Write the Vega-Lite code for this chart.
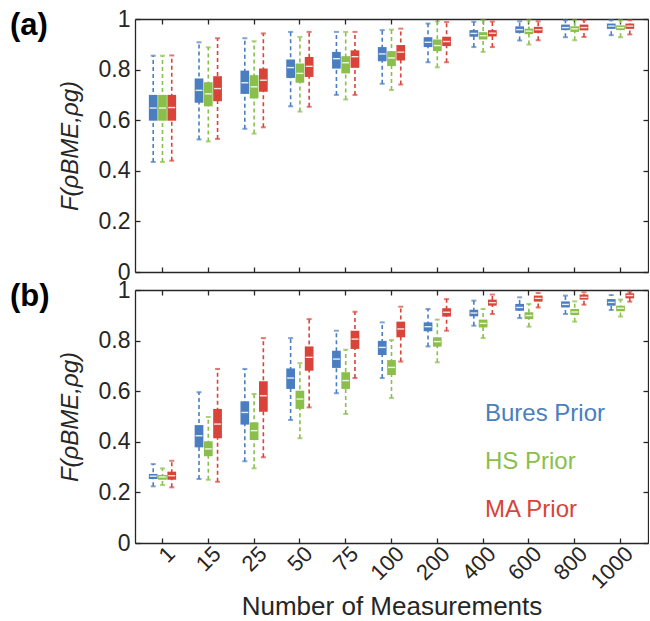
{
  "$schema": "https://vega.github.io/schema/vega-lite/v6.json",
  "padding": {"left": 10, "top": 8, "right": 0, "bottom": 0},
  "config": {"view": {"stroke": null}, "font": "Liberation Sans"},
  "datasets": {
    "a": [
      {"n": "1", "prior": "Bures Prior", "lo": 0.435, "q1": 0.598, "med": 0.648, "q3": 0.700, "hi": 0.855},
      {"n": "1", "prior": "HS Prior", "lo": 0.435, "q1": 0.598, "med": 0.648, "q3": 0.700, "hi": 0.855},
      {"n": "1", "prior": "MA Prior", "lo": 0.440, "q1": 0.598, "med": 0.650, "q3": 0.700, "hi": 0.856},
      {"n": "15", "prior": "Bures Prior", "lo": 0.524, "q1": 0.669, "med": 0.718, "q3": 0.765, "hi": 0.908},
      {"n": "15", "prior": "HS Prior", "lo": 0.516, "q1": 0.655, "med": 0.704, "q3": 0.750, "hi": 0.888},
      {"n": "15", "prior": "MA Prior", "lo": 0.526, "q1": 0.675, "med": 0.725, "q3": 0.774, "hi": 0.924},
      {"n": "25", "prior": "Bures Prior", "lo": 0.566, "q1": 0.704, "med": 0.748, "q3": 0.796, "hi": 0.924},
      {"n": "25", "prior": "HS Prior", "lo": 0.547, "q1": 0.686, "med": 0.732, "q3": 0.778, "hi": 0.912},
      {"n": "25", "prior": "MA Prior", "lo": 0.572, "q1": 0.712, "med": 0.758, "q3": 0.804, "hi": 0.943},
      {"n": "50", "prior": "Bures Prior", "lo": 0.655, "q1": 0.767, "med": 0.808, "q3": 0.840, "hi": 0.949},
      {"n": "50", "prior": "HS Prior", "lo": 0.634, "q1": 0.748, "med": 0.785, "q3": 0.824, "hi": 0.929},
      {"n": "50", "prior": "MA Prior", "lo": 0.653, "q1": 0.771, "med": 0.813, "q3": 0.850, "hi": 0.949},
      {"n": "75", "prior": "Bures Prior", "lo": 0.700, "q1": 0.804, "med": 0.843, "q3": 0.870, "hi": 0.949},
      {"n": "75", "prior": "HS Prior", "lo": 0.682, "q1": 0.785, "med": 0.827, "q3": 0.853, "hi": 0.949},
      {"n": "75", "prior": "MA Prior", "lo": 0.700, "q1": 0.807, "med": 0.851, "q3": 0.876, "hi": 0.949},
      {"n": "100", "prior": "Bures Prior", "lo": 0.744, "q1": 0.833, "med": 0.862, "q3": 0.889, "hi": 0.956},
      {"n": "100", "prior": "HS Prior", "lo": 0.719, "q1": 0.814, "med": 0.846, "q3": 0.873, "hi": 0.958},
      {"n": "100", "prior": "MA Prior", "lo": 0.741, "q1": 0.836, "med": 0.869, "q3": 0.897, "hi": 0.962},
      {"n": "200", "prior": "Bures Prior", "lo": 0.829, "q1": 0.889, "med": 0.908, "q3": 0.928, "hi": 0.982},
      {"n": "200", "prior": "HS Prior", "lo": 0.809, "q1": 0.873, "med": 0.895, "q3": 0.919, "hi": 0.991},
      {"n": "200", "prior": "MA Prior", "lo": 0.829, "q1": 0.893, "med": 0.911, "q3": 0.930, "hi": 0.988},
      {"n": "400", "prior": "Bures Prior", "lo": 0.889, "q1": 0.930, "med": 0.943, "q3": 0.956, "hi": 0.989},
      {"n": "400", "prior": "HS Prior", "lo": 0.870, "q1": 0.919, "med": 0.934, "q3": 0.948, "hi": 0.995},
      {"n": "400", "prior": "MA Prior", "lo": 0.889, "q1": 0.931, "med": 0.944, "q3": 0.956, "hi": 0.990},
      {"n": "600", "prior": "Bures Prior", "lo": 0.915, "q1": 0.945, "med": 0.958, "q3": 0.971, "hi": 0.991},
      {"n": "600", "prior": "HS Prior", "lo": 0.899, "q1": 0.940, "med": 0.952, "q3": 0.962, "hi": 0.995},
      {"n": "600", "prior": "MA Prior", "lo": 0.916, "q1": 0.945, "med": 0.958, "q3": 0.969, "hi": 0.991},
      {"n": "800", "prior": "Bures Prior", "lo": 0.928, "q1": 0.956, "med": 0.966, "q3": 0.978, "hi": 0.995},
      {"n": "800", "prior": "HS Prior", "lo": 0.916, "q1": 0.949, "med": 0.961, "q3": 0.971, "hi": 0.995},
      {"n": "800", "prior": "MA Prior", "lo": 0.929, "q1": 0.955, "med": 0.966, "q3": 0.978, "hi": 0.995},
      {"n": "1000", "prior": "Bures Prior", "lo": 0.936, "q1": 0.961, "med": 0.972, "q3": 0.982, "hi": 0.995},
      {"n": "1000", "prior": "HS Prior", "lo": 0.928, "q1": 0.956, "med": 0.966, "q3": 0.975, "hi": 0.995},
      {"n": "1000", "prior": "MA Prior", "lo": 0.939, "q1": 0.961, "med": 0.972, "q3": 0.982, "hi": 0.995}
    ],
    "b": [
      {"n": "1", "prior": "Bures Prior", "lo": 0.224, "q1": 0.253, "med": 0.264, "q3": 0.273, "hi": 0.312},
      {"n": "1", "prior": "HS Prior", "lo": 0.229, "q1": 0.250, "med": 0.261, "q3": 0.269, "hi": 0.295},
      {"n": "1", "prior": "MA Prior", "lo": 0.220, "q1": 0.250, "med": 0.266, "q3": 0.282, "hi": 0.325},
      {"n": "15", "prior": "Bures Prior", "lo": 0.253, "q1": 0.378, "med": 0.424, "q3": 0.466, "hi": 0.596},
      {"n": "15", "prior": "HS Prior", "lo": 0.250, "q1": 0.343, "med": 0.372, "q3": 0.402, "hi": 0.498},
      {"n": "15", "prior": "MA Prior", "lo": 0.242, "q1": 0.414, "med": 0.470, "q3": 0.530, "hi": 0.688},
      {"n": "25", "prior": "Bures Prior", "lo": 0.323, "q1": 0.468, "med": 0.516, "q3": 0.560, "hi": 0.688},
      {"n": "25", "prior": "HS Prior", "lo": 0.295, "q1": 0.407, "med": 0.444, "q3": 0.477, "hi": 0.589},
      {"n": "25", "prior": "MA Prior", "lo": 0.339, "q1": 0.519, "med": 0.582, "q3": 0.639, "hi": 0.810},
      {"n": "50", "prior": "Bures Prior", "lo": 0.486, "q1": 0.609, "med": 0.652, "q3": 0.690, "hi": 0.810},
      {"n": "50", "prior": "HS Prior", "lo": 0.414, "q1": 0.530, "med": 0.569, "q3": 0.602, "hi": 0.711},
      {"n": "50", "prior": "MA Prior", "lo": 0.536, "q1": 0.681, "med": 0.734, "q3": 0.777, "hi": 0.885},
      {"n": "75", "prior": "Bures Prior", "lo": 0.592, "q1": 0.692, "med": 0.727, "q3": 0.760, "hi": 0.839},
      {"n": "75", "prior": "HS Prior", "lo": 0.510, "q1": 0.609, "med": 0.642, "q3": 0.675, "hi": 0.764},
      {"n": "75", "prior": "MA Prior", "lo": 0.652, "q1": 0.767, "med": 0.806, "q3": 0.839, "hi": 0.914},
      {"n": "100", "prior": "Bures Prior", "lo": 0.652, "q1": 0.743, "med": 0.773, "q3": 0.799, "hi": 0.872},
      {"n": "100", "prior": "HS Prior", "lo": 0.573, "q1": 0.664, "med": 0.694, "q3": 0.723, "hi": 0.802},
      {"n": "100", "prior": "MA Prior", "lo": 0.717, "q1": 0.813, "med": 0.846, "q3": 0.875, "hi": 0.934},
      {"n": "200", "prior": "Bures Prior", "lo": 0.777, "q1": 0.837, "med": 0.855, "q3": 0.872, "hi": 0.925},
      {"n": "200", "prior": "HS Prior", "lo": 0.714, "q1": 0.776, "med": 0.796, "q3": 0.813, "hi": 0.883},
      {"n": "200", "prior": "MA Prior", "lo": 0.839, "q1": 0.895, "med": 0.912, "q3": 0.928, "hi": 0.964},
      {"n": "400", "prior": "Bures Prior", "lo": 0.859, "q1": 0.896, "med": 0.909, "q3": 0.922, "hi": 0.958},
      {"n": "400", "prior": "HS Prior", "lo": 0.810, "q1": 0.852, "med": 0.868, "q3": 0.883, "hi": 0.925},
      {"n": "400", "prior": "MA Prior", "lo": 0.905, "q1": 0.938, "med": 0.950, "q3": 0.962, "hi": 0.982},
      {"n": "600", "prior": "Bures Prior", "lo": 0.889, "q1": 0.918, "med": 0.931, "q3": 0.945, "hi": 0.971},
      {"n": "600", "prior": "HS Prior", "lo": 0.855, "q1": 0.885, "med": 0.899, "q3": 0.912, "hi": 0.945},
      {"n": "600", "prior": "MA Prior", "lo": 0.931, "q1": 0.954, "med": 0.967, "q3": 0.978, "hi": 0.988},
      {"n": "800", "prior": "Bures Prior", "lo": 0.905, "q1": 0.931, "med": 0.943, "q3": 0.955, "hi": 0.978},
      {"n": "800", "prior": "HS Prior", "lo": 0.875, "q1": 0.901, "med": 0.913, "q3": 0.925, "hi": 0.955},
      {"n": "800", "prior": "MA Prior", "lo": 0.942, "q1": 0.962, "med": 0.971, "q3": 0.982, "hi": 0.991},
      {"n": "1000", "prior": "Bures Prior", "lo": 0.921, "q1": 0.938, "med": 0.951, "q3": 0.964, "hi": 0.980},
      {"n": "1000", "prior": "HS Prior", "lo": 0.895, "q1": 0.916, "med": 0.928, "q3": 0.938, "hi": 0.962},
      {"n": "1000", "prior": "MA Prior", "lo": 0.954, "q1": 0.967, "med": 0.978, "q3": 0.987, "hi": 0.993}
    ]
  },
  "spacing": -5,
  "resolve": {"scale": {"color": "shared"}, "legend": {"color": "independent"}},
  "vconcat": [
    {
      "width": 513, "height": 253,
      "data": {"name": "a"},
      "title": {"text": "(a)", "anchor": "start", "frame": "bounds", "fontSize": 31, "fontWeight": "bold", "color": "#000000", "dx": -48, "dy": 25, "offset": -40, "baseline": "bottom"},
      "encoding": {
        "x": {"field": "n", "type": "nominal", "sort": ["1","15","25","50","75","100","200","400","600","800","1000"], "scale": {"paddingInner": 0, "paddingOuter": 0.1}, "axis": null},
        "xOffset": {"field": "prior", "type": "nominal", "sort": ["Bures Prior","HS Prior","MA Prior"], "scale": {"paddingInner": 0.06, "paddingOuter": 1.4}},
        "color": {"field": "prior", "type": "nominal", "scale": {"domain": ["Bures Prior","HS Prior","MA Prior"], "range": ["#4a7ec0","#8abf4b","#d8443a"]}, "legend": null}
      },
      "layer": [
        {
          "mark": {"type": "rule", "strokeDash": [4, 3], "strokeWidth": 1.6},
          "encoding": {
            "x": {"field": "n", "type": "nominal", "sort": ["1","15","25","50","75","100","200","400","600","800","1000"], "axis": {"orient": "bottom", "labels": false, "title": null, "tickSize": -5, "tickWidth": 1.3, "tickColor": "#262626", "domainColor": "#262626", "domainWidth": 1.3}},
            "y": {"field": "lo", "type": "quantitative", "scale": {"domain": [0, 1]}, "axis": {"orient": "left", "values": [0, 0.2, 0.4, 0.6, 0.8, 1], "format": "~g", "grid": false, "labelFlush": false, "tickSize": -5, "tickWidth": 1.3, "labelPadding": 10, "labelFontSize": 23, "labelColor": "#262626", "tickColor": "#262626", "domainColor": "#262626", "domainWidth": 1.3, "title": "F(ρBME,ρg)", "titleFontSize": 24, "titleFontStyle": "italic", "titleFontWeight": "normal", "titleColor": "#262626", "titlePadding": 16}},
            "y2": {"field": "hi"}
          }
        },
        {
          "mark": {"type": "bar"},
          "encoding": {
            "x": {"field": "n", "type": "nominal", "sort": ["1","15","25","50","75","100","200","400","600","800","1000"], "axis": {"orient": "top", "labels": false, "title": null, "tickSize": -5, "tickWidth": 1.3, "tickColor": "#262626", "domainColor": "#262626", "domainWidth": 1.3}},
            "y": {"field": "q1", "type": "quantitative", "axis": {"orient": "right", "values": [0, 0.2, 0.4, 0.6, 0.8, 1], "labels": false, "grid": false, "title": null, "tickSize": -5, "tickWidth": 1.3, "tickColor": "#262626", "domainColor": "#262626", "domainWidth": 1.3}},
            "y2": {"field": "q3"}
          }
        },
        {"mark": {"type": "tick", "size": 5, "thickness": 2}, "encoding": {"y": {"field": "lo", "type": "quantitative", "axis": null}}},
        {"mark": {"type": "tick", "size": 5, "thickness": 2}, "encoding": {"y": {"field": "hi", "type": "quantitative", "axis": null}}},
        {"mark": {"type": "tick", "size": 7, "thickness": 1.4, "opacity": 0.85}, "encoding": {"y": {"field": "med", "type": "quantitative", "axis": null}, "color": {"value": "#ffffff"}}}
      ],
      "resolve": {"axis": {"x": "independent", "y": "independent"}}
    },
    {
      "width": 513, "height": 253,
      "data": {"name": "b"},
      "title": {"text": "(b)", "anchor": "start", "frame": "bounds", "fontSize": 31, "fontWeight": "bold", "color": "#000000", "dx": -48, "dy": 25, "offset": -40, "baseline": "bottom"},
      "encoding": {
        "x": {"field": "n", "type": "nominal", "sort": ["1","15","25","50","75","100","200","400","600","800","1000"], "scale": {"paddingInner": 0, "paddingOuter": 0.1}, "axis": null},
        "xOffset": {"field": "prior", "type": "nominal", "sort": ["Bures Prior","HS Prior","MA Prior"], "scale": {"paddingInner": 0.06, "paddingOuter": 1.4}},
        "color": {"field": "prior", "type": "nominal", "scale": {"domain": ["Bures Prior","HS Prior","MA Prior"], "range": ["#4a7ec0","#8abf4b","#d8443a"]},
          "legend": {"orient": "none", "legendX": 326, "legendY": 112, "title": null, "padding": 0, "symbolSize": 0, "symbolOpacity": 0, "symbolStrokeWidth": 0, "labelOffset": 0, "labelFontSize": 24, "rowPadding": 24, "labelLimit": 300,
            "encode": {"labels": {"update": {"fill": {"scale": "color", "field": "value"}}}}}}
      },
      "layer": [
        {
          "mark": {"type": "rule", "strokeDash": [4, 3], "strokeWidth": 1.6},
          "encoding": {
            "x": {"field": "n", "type": "nominal", "sort": ["1","15","25","50","75","100","200","400","600","800","1000"], "axis": {"orient": "bottom", "labelAngle": -45, "labelAlign": "right", "labelBaseline": "middle", "labelOffset": 9, "labelPadding": 12, "labelFontSize": 22, "labelColor": "#262626", "title": "Number of Measurements", "titleFontSize": 26, "titleFontWeight": "normal", "titleColor": "#262626", "titlePadding": 1, "tickSize": -5, "tickWidth": 1.3, "tickColor": "#262626", "domainColor": "#262626", "domainWidth": 1.3}},
            "y": {"field": "lo", "type": "quantitative", "scale": {"domain": [0, 1]}, "axis": {"orient": "left", "values": [0, 0.2, 0.4, 0.6, 0.8, 1], "format": "~g", "grid": false, "labelFlush": false, "tickSize": -5, "tickWidth": 1.3, "labelPadding": 10, "labelFontSize": 23, "labelColor": "#262626", "tickColor": "#262626", "domainColor": "#262626", "domainWidth": 1.3, "title": "F(ρBME,ρg)", "titleFontSize": 24, "titleFontStyle": "italic", "titleFontWeight": "normal", "titleColor": "#262626", "titlePadding": 16}},
            "y2": {"field": "hi"}
          }
        },
        {
          "mark": {"type": "bar"},
          "encoding": {
            "x": {"field": "n", "type": "nominal", "sort": ["1","15","25","50","75","100","200","400","600","800","1000"], "axis": {"orient": "top", "labels": false, "title": null, "tickSize": -5, "tickWidth": 1.3, "tickColor": "#262626", "domainColor": "#262626", "domainWidth": 1.3}},
            "y": {"field": "q1", "type": "quantitative", "axis": {"orient": "right", "values": [0, 0.2, 0.4, 0.6, 0.8, 1], "labels": false, "grid": false, "title": null, "tickSize": -5, "tickWidth": 1.3, "tickColor": "#262626", "domainColor": "#262626", "domainWidth": 1.3}},
            "y2": {"field": "q3"}
          }
        },
        {"mark": {"type": "tick", "size": 5, "thickness": 2}, "encoding": {"y": {"field": "lo", "type": "quantitative", "axis": null}}},
        {"mark": {"type": "tick", "size": 5, "thickness": 2}, "encoding": {"y": {"field": "hi", "type": "quantitative", "axis": null}}},
        {"mark": {"type": "tick", "size": 7, "thickness": 1.4, "opacity": 0.85}, "encoding": {"y": {"field": "med", "type": "quantitative", "axis": null}, "color": {"value": "#ffffff"}}}
      ],
      "resolve": {"axis": {"x": "independent", "y": "independent"}}
    }
  ]
}
